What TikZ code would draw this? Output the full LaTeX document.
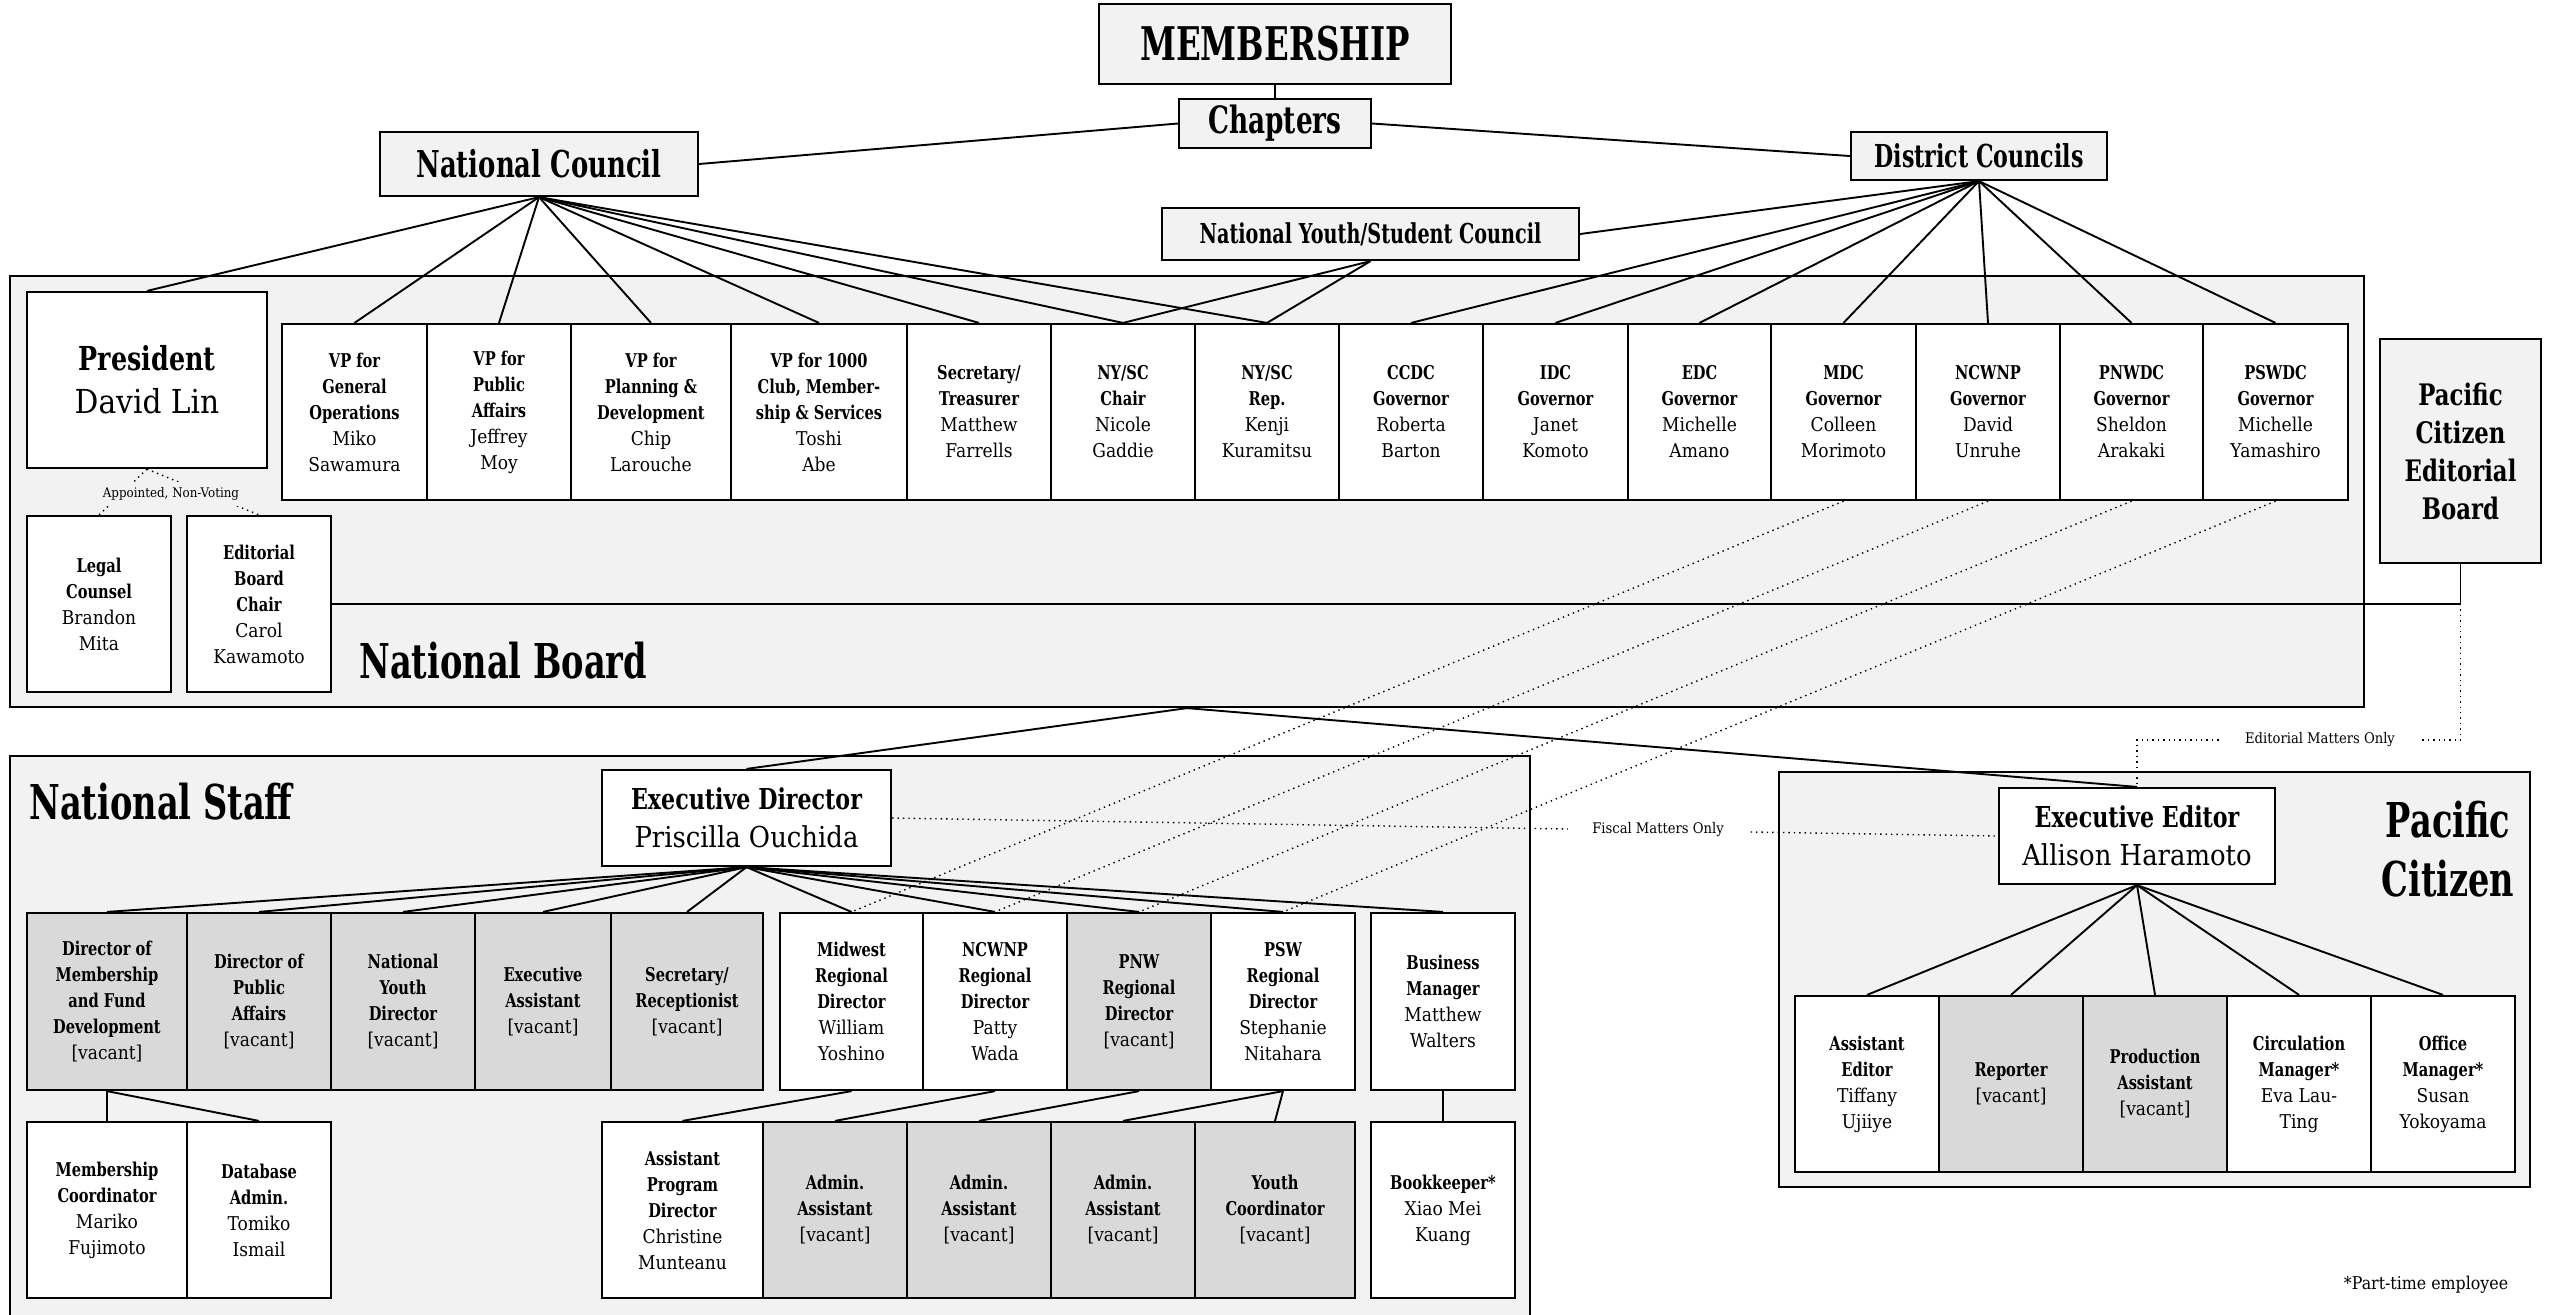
\documentclass[tikz,border=0pt]{standalone}
\usepackage{fontspec}
\setmainfont{DejaVu Serif}[UprightFeatures={FakeStretch=0.9},BoldFeatures={FakeStretch=0.77}]
\newfontfamily\hdfont{DejaVu Serif}[FakeStretch=0.7]
\pgfdeclarelayer{bg}
\pgfdeclarelayer{ln}
\pgfsetlayers{bg,ln,main}
\definecolor{bgc}{HTML}{F2F2F2}
\definecolor{gc}{HTML}{D9D9D9}
\newcommand\bx[6]{\node[#6, minimum width={(#4-#2)*0.5pt}, minimum height={(#5-#3)*0.5pt}] (#1) at ({(#2+#4)/2},{(#3+#5)/2})}
\newcommand\fs[2]{\fontsize{#1}{#2}\selectfont}
\newcommand\nb{\\\bfseries}
\newcommand\vac{\\{}[vacant]}
\begin{document}
\begin{tikzpicture}[x=0.5pt,y=-0.5pt,
 cont/.style={draw, line width=1.1pt, fill=bgc, inner sep=0pt},
 cbox/.style={draw, line width=1.1pt, fill=white, align=center, inner sep=0pt, font=\fs{9.5}{13}},
 gbox/.style={cbox, fill=gc},
 topb/.style={draw, line width=1.1pt, fill=bgc, inner sep=0pt, align=center},
 conn/.style={line width=0.95pt},
 dotl/.style={line width=0.7pt, dotted},
 hd/.style={inner sep=0pt, font={\hdfont\bfseries\fs{24}{29.5}}},
 ]
\useasboundingbox (0,0) rectangle (2559,1314);
\begin{pgfonlayer}{bg}
\bx{board}{10}{276}{2364}{707}{cont}{};
\bx{staff}{10}{756}{1530}{1334}{cont}{};
\bx{pc}{1779}{772}{2530}{1187}{cont}{};
\end{pgfonlayer}
% top
\bx{mem}{1099}{4}{1451}{84}{topb, font={\hdfont\bfseries\fs{23.2}{26}}}{MEMBERSHIP};
\bx{chap}{1179}{99}{1371}{148}{topb, font={\hdfont\bfseries\fs{18.8}{22}}}{Chapters};
\bx{nc}{380}{132}{698}{196}{topb, font={\hdfont\bfseries\fs{18.5}{22}}}{National Council};
\bx{dc}{1851}{132}{2107}{180}{topb, font={\hdfont\bfseries\fs{15.8}{19}}}{District Councils};
\bx{nysc}{1162}{208}{1579}{260}{topb, font={\hdfont\bfseries\fs{13.7}{17}}}{National Youth/Student Council};
% board
\bx{pres}{27}{292}{267}{468}{cbox, font=\fs{16.5}{21.5}}{\bfseries President\\David Lin};
\bx{legal}{27}{516}{171}{692}{cbox}{\bfseries Legal\nb Counsel\\Brandon\\Mita};
\bx{edc}{187}{516}{331}{692}{cbox}{\bfseries Editorial\nb Board\nb Chair\\Carol\\Kawamoto};
\bx{vp1}{282}{324}{427}{500}{cbox}{\bfseries VP for\nb General\nb Operations\\Miko\\Sawamura};
\bx{vp2}{427}{324}{571}{500}{cbox}{\bfseries VP for\nb Public\nb Affairs\\Jeffrey\\Moy};
\bx{vp3}{571}{324}{731}{500}{cbox}{\bfseries VP for\nb Planning \&\nb Development\\Chip\\Larouche};
\bx{vp4}{731}{324}{907}{500}{cbox}{\bfseries VP for 1000\nb Club, Member-\nb ship \& Services\\Toshi\\Abe};
\bx{sec}{907}{324}{1051}{500}{cbox}{\bfseries Secretary/\nb Treasurer\\Matthew\\Farrells};
\bx{nyc}{1051}{324}{1195}{500}{cbox}{\bfseries NY/SC\nb Chair\\Nicole\\Gaddie};
\bx{nyr}{1195}{324}{1339}{500}{cbox}{\bfseries NY/SC\nb Rep.\\Kenji\\Kuramitsu};
\bx{g1}{1339}{324}{1483}{500}{cbox}{\bfseries CCDC\nb Governor\\Roberta\\Barton};
\bx{g2}{1483}{324}{1628}{500}{cbox}{\bfseries IDC\nb Governor\\Janet\\Komoto};
\bx{g3}{1628}{324}{1771}{500}{cbox}{\bfseries EDC\nb Governor\\Michelle\\Amano};
\bx{g4}{1771}{324}{1916}{500}{cbox}{\bfseries MDC\nb Governor\\Colleen\\Morimoto};
\bx{g5}{1916}{324}{2060}{500}{cbox}{\bfseries NCWNP\nb Governor\\David\\Unruhe};
\bx{g6}{2060}{324}{2203}{500}{cbox}{\bfseries PNWDC\nb Governor\\Sheldon\\Arakaki};
\bx{g7}{2203}{324}{2348}{500}{cbox}{\bfseries PSWDC\nb Governor\\Michelle\\Yamashiro};
\bx{pceb}{2380}{339}{2541}{563}{topb, font={\fs{14.8}{19}}}{\bfseries Pacific\nb Citizen\nb Editorial\nb Board};
\node[hd, anchor=base west] (hnb) at (359,678) {National Board};
% staff
\node[hd, anchor=base west] (hns) at (29,819) {National Staff};
\bx{ed}{602}{770}{891}{866}{cbox, font=\fs{14.4}{19}}{\bfseries Executive Director\\Priscilla Ouchida};
\bx{a1}{27}{913}{187}{1090}{gbox}{\bfseries Director of\nb Membership\nb and Fund\nb Development\vac};
\bx{a2}{187}{913}{331}{1090}{gbox}{\bfseries Director of\nb Public\nb Affairs\vac};
\bx{a3}{331}{913}{475}{1090}{gbox}{\bfseries National\nb Youth\nb Director\vac};
\bx{a4}{475}{913}{611}{1090}{gbox}{\bfseries Executive\nb Assistant\vac};
\bx{a5}{611}{913}{763}{1090}{gbox}{\bfseries Secretary/\nb Receptionist\vac};
\bx{b1}{780}{913}{923}{1090}{cbox}{\bfseries Midwest\nb Regional\nb Director\\William\\Yoshino};
\bx{b2}{923}{913}{1067}{1090}{cbox}{\bfseries NCWNP\nb Regional\nb Director\\Patty\\Wada};
\bx{b3}{1067}{913}{1211}{1090}{gbox}{\bfseries PNW\nb Regional\nb Director\vac};
\bx{b4}{1211}{913}{1355}{1090}{cbox}{\bfseries PSW\nb Regional\nb Director\\Stephanie\\Nitahara};
\bx{bm}{1371}{913}{1515}{1090}{cbox}{\bfseries Business\nb Manager\\Matthew\\Walters};
\bx{c1}{27}{1122}{187}{1298}{cbox}{\bfseries Membership\nb Coordinator\\Mariko\\Fujimoto};
\bx{c2}{187}{1122}{331}{1298}{cbox}{\bfseries Database\nb Admin.\\Tomiko\\Ismail};
\bx{d1}{602}{1122}{763}{1298}{cbox}{\bfseries Assistant\nb Program\nb Director\\Christine\\Munteanu};
\bx{d2}{763}{1122}{907}{1298}{gbox}{\bfseries Admin.\nb Assistant\vac};
\bx{d3}{907}{1122}{1051}{1298}{gbox}{\bfseries Admin.\nb Assistant\vac};
\bx{d4}{1051}{1122}{1195}{1298}{gbox}{\bfseries Admin.\nb Assistant\vac};
\bx{d5}{1195}{1122}{1355}{1298}{gbox}{\bfseries Youth\nb Coordinator\vac};
\bx{bk}{1371}{1122}{1515}{1298}{cbox}{\bfseries Bookkeeper*\\Xiao Mei\\Kuang};
% pacific citizen
\node[hd, align=center] (hpc) at (2448,849) {Pacific\\Citizen};
\bx{ee}{1999}{788}{2275}{884}{cbox, font=\fs{14.4}{19}}{\bfseries Executive Editor\\Allison Haramoto};
\bx{p1}{1795}{996}{1939}{1172}{cbox}{\bfseries Assistant\nb Editor\\Tiffany\\Ujiiye};
\bx{p2}{1939}{996}{2083}{1172}{gbox}{\bfseries Reporter\vac};
\bx{p3}{2083}{996}{2227}{1172}{gbox}{\bfseries Production\nb Assistant\vac};
\bx{p4}{2227}{996}{2371}{1172}{cbox}{\bfseries Circulation\nb Manager*\\Eva Lau-\\Ting};
\bx{p5}{2371}{996}{2515}{1172}{cbox}{\bfseries Office\nb Manager*\\Susan\\Yokoyama};
\node[inner sep=0pt, font=\fs{8.8}{10}] (ptime) at (2426,1285) {*Part-time employee};
% labels
\node[fill=bgc, inner xsep=1pt, inner ysep=3pt, font=\fs{6.6}{8}] (appt) at (171,494) {Appointed, Non-Voting};
\node[fill=white, inner xsep=12pt, inner ysep=3pt, font=\fs{7.3}{9}] (fisc) at (1658,830) {Fiscal Matters Only};
\node[fill=white, inner xsep=12pt, inner ysep=3pt, font=\fs{7.3}{9}] (edm) at (2320,740) {Editorial Matters Only};
% connectors
\begin{pgfonlayer}{ln}
\draw[conn] (mem.south) -- (chap.north);
\draw[conn] (chap.west) -- (nc.east);
\draw[conn] (chap.east) -- (dc.west);
\draw[conn] (dc.south) -- (nysc.east);
\foreach \t in {pres,vp1,vp2,vp3,vp4,sec,nyc,nyr} \draw[conn] (nc.south) -- (\t.north);
\foreach \t in {nyc,nyr} \draw[conn] (nysc.south) -- (\t.north);
\foreach \t in {g1,g2,g3,g4,g5,g6,g7} \draw[conn] (dc.south) -- (\t.north);
\draw[dotl] (pres.south) -- (legal.north);
\draw[dotl] (pres.south) -- (edc.north);
\coordinate (j) at (pceb.south |- edc.east);
\draw[conn] (edc.east) -- (j) -- (pceb.south);
\coordinate (emr) at (2460.5,740);
\coordinate (eml) at (ee.north |- emr);
\draw[dotl] (j) -- (emr) -- (eml) -- (ee.north);
\draw[conn] (board.south) -- (ed.north);
\draw[conn] (board.south) -- (ee.north);
\draw[dotl] (ed.east) -- (ee.west);
\foreach \t in {a1,a2,a3,a4,a5,b1,b2,b3,b4,bm} \draw[conn] (ed.south) -- (\t.north);
\draw[conn] (a1.south) -- (c1.north);
\draw[conn] (a1.south) -- (c2.north);
\draw[conn] (b1.south) -- (d1.north);
\draw[conn] (b2.south) -- (d2.north);
\draw[conn] (b3.south) -- (d3.north);
\draw[conn] (b4.south) -- (d4.north);
\draw[conn] (b4.south) -- (d5.north);
\draw[conn] (bm.south) -- (bk.north);
\foreach \t in {p1,p2,p3,p4,p5} \draw[conn] (ee.south) -- (\t.north);
\draw[dotl] (g4.south) -- (b1.north);
\draw[dotl] (g5.south) -- (b2.north);
\draw[dotl] (g6.south) -- (b3.north);
\draw[dotl] (g7.south) -- (b4.north);
\end{pgfonlayer}
\end{tikzpicture}
\end{document}
